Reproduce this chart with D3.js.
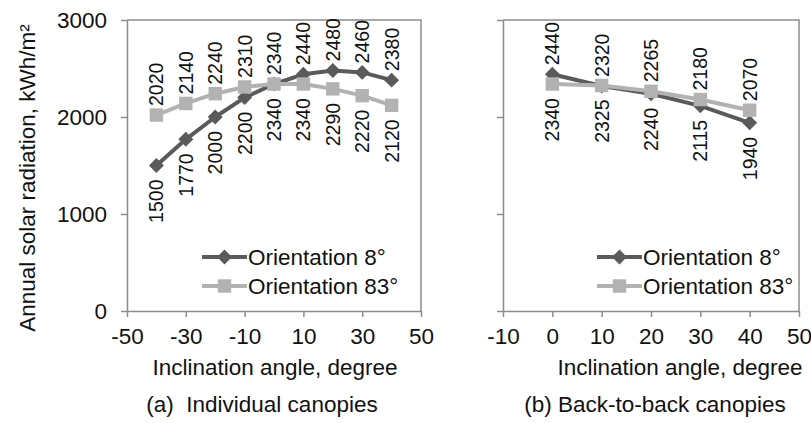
<!DOCTYPE html>
<html>
<head>
<meta charset="utf-8">
<script src="https://cdn.jsdelivr.net/npm/d3@7"></script>
<style>
  body { margin: 0; background: #fff; }
  svg { display: block; font-family: Arial, "Liberation Sans", sans-serif; }
</style>
</head>
<body>
<div id="chart"></div>
<script>
// Data: (a) individual canopies
const anglesA = [-40, -30, -20, -10, 0, 10, 20, 30, 40];
const orient8A = [1500, 1770, 2000, 2200, 2340, 2440, 2480, 2460, 2380];
const orient83A = [2020, 2140, 2240, 2310, 2340, 2340, 2290, 2220, 2120];

// Data: (b) back-to-back canopies
const anglesB = [0, 10, 20, 30, 40];
const orient8B = [2440, 2320, 2240, 2115, 1940];
const orient83B = [2340, 2325, 2265, 2180, 2070];

// Axis ticks
const xTicksA = [-50, -30, -10, 10, 30, 50];
const xTicksB = [-10, 0, 10, 20, 30, 40, 50];
const yTicks = [0, 1000, 2000, 3000];

const seriesNames = ["Orientation 8°", "Orientation 83°"];
const yTitle = "Annual solar radiation, kWh/m²";
const xTitle = "Inclination angle, degree";
const captions = ["(a)  Individual canopies", "(b) Back-to-back canopies"];

const WIDTH = 811;
const HEIGHT = 423;
const DARK = "#5a5a5a";
const LIGHT = "#b2b2b2";
const AXIS = "#8c8c8c";
const FONT = 22.5;

const svg = d3.select("#chart").append("svg").attr("width", WIDTH).attr("height", HEIGHT);

const yScale = d3.scaleLinear().domain([0, 3000]).range([311, 20]);

// markers: diamond is a square turned 45 degrees
const markers = {
  diamond: { path: d3.symbol(d3.symbolSquare, 112)(), rotate: 45 },
  square: { path: d3.symbol(d3.symbolSquare, 180)(), rotate: 0 },
};

/**
 * Style the axis created by d3 to look like the reference
 */
function styleAxis(axisG) {
  axisG.select(".domain").attr("stroke", AXIS).attr("stroke-width", 1.5);
  axisG.selectAll(".tick line").attr("stroke", AXIS).attr("stroke-width", 1.5);
  axisG.selectAll("text").attr("font-size", FONT).attr("fill", "#111").attr("font-family", null);
}

/**
 * Draw one panel: frame, axes, two series, labels, legend and caption
 */
function drawPanel(cfg) {
  const x = d3.scaleLinear().domain(cfg.xDomain).range([cfg.left, cfg.right]);
  const g = svg.append("g");

  // frame (top and right edges)
  g.append("path")
    .attr("d", `M${cfg.left},${yScale(3000)}H${cfg.right}V${yScale(0)}`)
    .attr("fill", "none")
    .attr("stroke", AXIS)
    .attr("stroke-width", 1.5);

  // x axis
  styleAxis(g.append("g")
    .attr("transform", `translate(0,${yScale(0)})`)
    .call(d3.axisBottom(x).tickValues(cfg.xTicks).tickSize(6).tickPadding(11).tickSizeOuter(0)
      .tickFormat((d) => String(d))));

  // y axis
  styleAxis(g.append("g")
    .attr("transform", `translate(${cfg.left},0)`)
    .call(d3.axisLeft(yScale).tickValues(yTicks).tickSize(6).tickPadding(14).tickSizeOuter(0)
      .tickFormat(cfg.yLabels ? (d) => String(d) : () => "")));

  // series: dark first, light on top
  const series = [
    { values: cfg.dark, color: DARK, marker: markers.diamond },
    { values: cfg.light, color: LIGHT, marker: markers.square },
  ];

  const line = d3.line().x((d) => x(d[0])).y((d) => yScale(d[1]));

  series.forEach((s) => {
    const pts = cfg.angles.map((a, i) => [a, s.values[i]]);
    g.append("path")
      .attr("d", line(pts))
      .attr("fill", "none")
      .attr("stroke", s.color)
      .attr("stroke-width", 4)
      .attr("stroke-linejoin", "round");
    g.selectAll(null)
      .data(pts)
      .join("path")
      .attr("d", s.marker.path)
      .attr("transform", (d) => `translate(${x(d[0])},${yScale(d[1])}) rotate(${s.marker.rotate})`)
      .attr("fill", s.color);
  });

  // data labels: higher series above, lower below (near ties: dark above)
  cfg.angles.forEach((a, i) => {
    const dv = cfg.dark[i];
    const lv = cfg.light[i];
    const darkAbove = dv >= lv - 10;
    const items = [
      { v: dv, above: darkAbove },
      { v: lv, above: !darkAbove },
    ];
    items.forEach((it) => {
      const px = x(a);
      const py = it.above ? yScale(it.v) - 9 : yScale(it.v) + 14;
      g.append("text")
        .attr("transform", `translate(${px},${py}) rotate(-90)`)
        .attr("text-anchor", it.above ? "start" : "end")
        .attr("dy", "0.36em")
        .attr("font-size", 19.5)
        .attr("fill", "#111")
        .text(it.v);
    });
  });

  // legend
  series.forEach((s, i) => {
    const ly = 257 + i * 29;
    g.append("line")
      .attr("x1", cfg.legendX).attr("x2", cfg.legendX + 45)
      .attr("y1", ly).attr("y2", ly)
      .attr("stroke", s.color).attr("stroke-width", 4);
    g.append("path")
      .attr("d", s.marker.path)
      .attr("transform", `translate(${cfg.legendX + 22.5},${ly}) rotate(${s.marker.rotate})`)
      .attr("fill", s.color);
    g.append("text")
      .attr("x", cfg.legendX + 46)
      .attr("y", ly)
      .attr("dy", "0.36em")
      .attr("font-size", FONT)
      .attr("fill", "#111")
      .text(seriesNames[i]);
  });

  // axis title and caption
  g.append("text")
    .attr("x", cfg.titleX).attr("y", 375)
    .attr("text-anchor", "middle")
    .attr("font-size", FONT).attr("fill", "#111")
    .text(xTitle);
  g.append("text")
    .attr("x", cfg.captionX).attr("y", 412)
    .attr("text-anchor", "middle")
    .attr("font-size", FONT).attr("fill", "#111")
    .style("white-space", "pre")
    .text(cfg.caption);
}

drawPanel({
  left: 127, right: 421, xDomain: [-50, 50], xTicks: xTicksA, yLabels: true,
  angles: anglesA, dark: orient8A, light: orient83A,
  legendX: 202, titleX: 275, captionX: 262, caption: captions[0],
});

drawPanel({
  left: 503, right: 799, xDomain: [-10, 50], xTicks: xTicksB, yLabels: false,
  angles: anglesB, dark: orient8B, light: orient83B,
  legendX: 597, titleX: 680, captionX: 655, caption: captions[1],
});

// y axis title
svg.append("text")
  .attr("transform", `translate(35,178) rotate(-90)`)
  .attr("text-anchor", "middle")
  .attr("font-size", FONT)
  .attr("fill", "#111")
  .text(yTitle);
</script>
</body>
</html>
